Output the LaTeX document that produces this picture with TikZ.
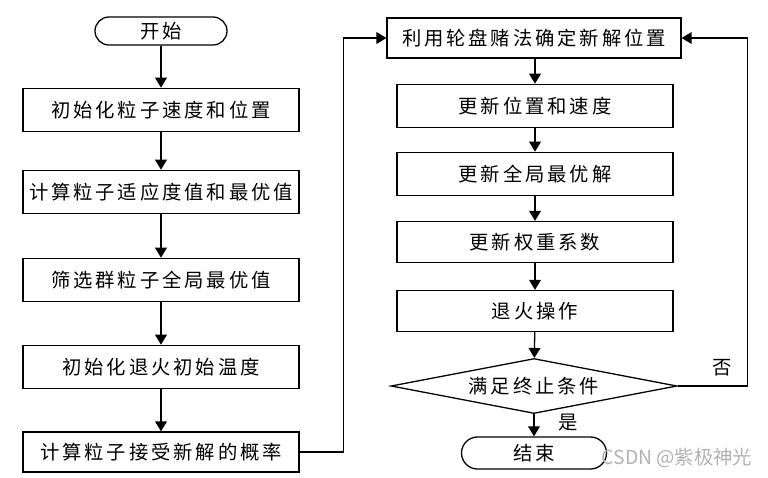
\documentclass[tikz,border=0pt]{standalone}
\usepackage{fontspec}
\setmainfont{Noto Sans CJK SC}[LetterSpace=15]
\newfontfamily\markfont{Noto Sans CJK SC}
\usetikzlibrary{arrows.meta,shapes.geometric}

\tikzset{
	box/.style={draw, line width=1.1pt, minimum width=8.28cm, minimum height=1.3cm,
		inner sep=0pt, font=\fontsize{16.5}{19}\selectfont},
	pill/.style={box, rounded corners=0.42cm, minimum width=3.96cm, minimum height=0.84cm},
	test/.style={box, diamond, shape aspect=5, minimum width=8.58cm, minimum height=1.65cm},
	flow/.style={line width=1.1pt, -{Triangle[length=8.5pt,width=10pt]}},
	note/.style={font=\fontsize{16.5}{19}\selectfont}
}

\begin{document}
\begin{tikzpicture}[x=0.03cm,y=-0.03cm]
		\useasboundingbox (0,0) rectangle (768,477);
		% left column
		\node[pill] (start) at (161,31) {开始};
		\node[box] (init) at (161,110) {初始化粒子速度和位置};
		\node[box] (fit) at (161,192) {计算粒子适应度值和最优值};
		\node[box] (best) at (161,280) {筛选群粒子全局最优值};
		\node[box] (temp) at (161,367) {初始化退火初始温度};
		\node[box, minimum height=1.2cm] (prob) at (161,452) {计算粒子接受新解的概率};
		% right column
		\node[box, minimum width=8.82cm, minimum height=1.2cm] (wheel) at (534,38) {利用轮盘赌法确定新解位置};
		\node[box] (upd) at (535,106) {更新位置和速度};
		\node[box] (gbest) at (535,174) {更新全局最优解};
		\node[box, minimum height=1.23cm] (wgt) at (535,242) {更新权重系数};
		\node[box, minimum height=1.23cm] (anneal) at (535,311) {退火操作};
		\node[test] (stop) at (534,386) {满足终止条件};
		\node[pill, minimum width=4.35cm, minimum height=0.96cm, rounded corners=0.48cm] (end) at (534,453) {结束};
		% arrows
		\draw[flow] (start) -- (init);
		\draw[flow] (init) -- (fit);
		\draw[flow] (fit) -- (best);
		\draw[flow] (best) -- (temp);
		\draw[flow] (temp) -- (prob);
		\draw[flow] (prob.east) -- ++(44,0) |- (wheel.west);
		\draw[flow] (wheel.south -| upd.north) -- (upd);
		\draw[flow] (upd) -- (gbest);
		\draw[flow] (gbest) -- (wgt);
		\draw[flow] (wgt) -- (anneal);
		\draw[flow] (anneal) -- (stop);
		\draw[flow] (stop) -- (end);
		\draw[flow] (stop.east) -- ++(70,0) |- (wheel.east);
		\node[note] at (722,368) {否};
		\node[note] at (568,423) {是};
		\node[font=\markfont\fontsize{16.5}{19}\selectfont, text=black!30] at (677,458) {CSDN @紫极神光};
\end{tikzpicture}
\end{document}
